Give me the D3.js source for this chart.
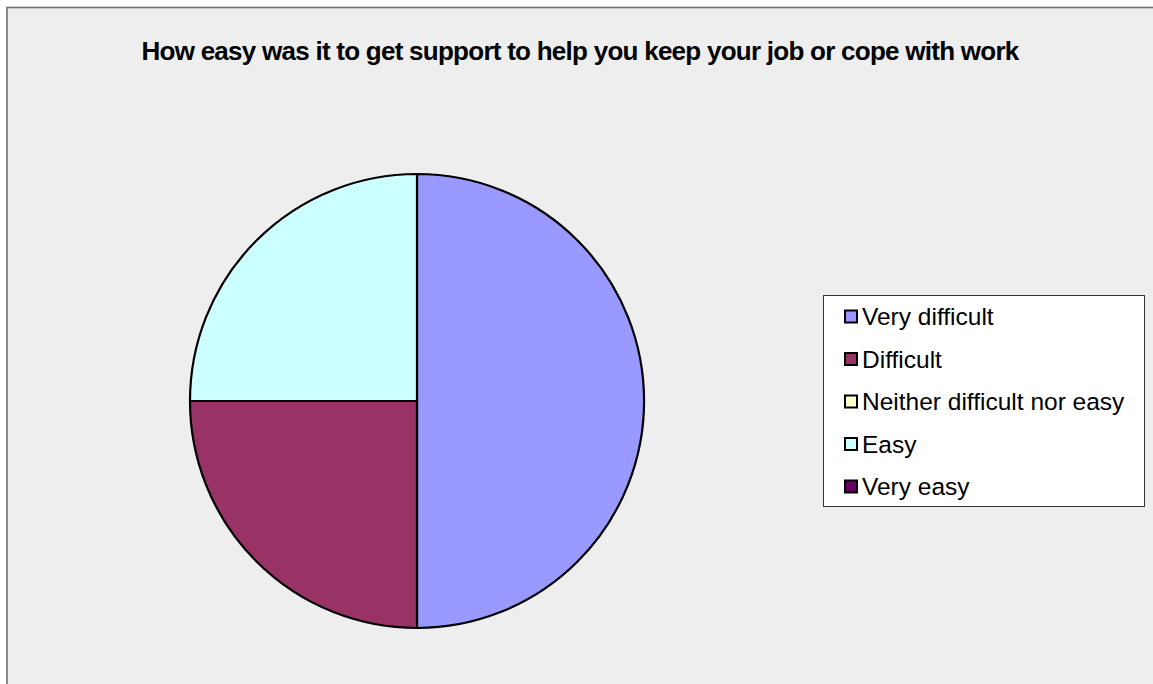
<!DOCTYPE html>
<html>
<head>
<meta charset="utf-8">
<script src="https://cdn.jsdelivr.net/npm/d3@7"></script>
<style>
  html, body { margin: 0; padding: 0; background: #ffffff; }
  svg { display: block; }
</style>
</head>
<body>
<svg id="chart" width="1153" height="684"></svg>
<script>
// Survey answers and their share of responses (%)
const categories = ["Very difficult", "Difficult", "Neither difficult nor easy", "Easy", "Very easy"];
const values = [50, 25, 0, 25, 0];
const colors = ["#9999FF", "#993366", "#FFFFCC", "#CCFFFF", "#660066"];
const title = "How easy was it to get support to help you keep your job or cope with work";

const width = 1153, height = 684;
const svg = d3.select("#chart");

// chart area panel
svg.append("rect")
  .attr("x", 7).attr("y", 7.5)
  .attr("width", width + 20).attr("height", height + 20)
  .attr("fill", "#EEEEEE")
  .attr("stroke", "#6E6E6E")
  .attr("stroke-width", 1.6);

// title
svg.append("text")
  .attr("x", 580).attr("y", 60)
  .attr("text-anchor", "middle")
  .attr("font-family", "Liberation Sans, Arial, sans-serif")
  .attr("font-weight", "bold")
  .attr("font-size", 26)
  .attr("letter-spacing", "-0.74px")
  .attr("fill", "#000")
  .text(title);

// pie
const cx = 417, cy = 401, r = 227;
const color = d3.scaleOrdinal().domain(categories).range(colors);
const pie = d3.pie().sort(null).value(d => d.value);
const arc = d3.arc().innerRadius(0).outerRadius(r);
const data = categories.map((c, i) => ({ name: c, value: values[i] }));

const g = svg.append("g").attr("transform", `translate(${cx},${cy})`);
g.selectAll("path")
  .data(pie(data).filter(d => d.data.value > 0))
  .join("path")
  .attr("d", arc)
  .attr("fill", d => color(d.data.name))
  .attr("stroke", "#000")
  .attr("stroke-width", 2.2)
  .attr("stroke-linejoin", "round");

// legend
const lx = 823.5, ly = 295.5, lw = 321, lh = 211;
svg.append("rect")
  .attr("x", lx).attr("y", ly)
  .attr("width", lw).attr("height", lh)
  .attr("fill", "#ffffff")
  .attr("stroke", "#333333")
  .attr("stroke-width", 1);

const rowY = d3.scalePoint().domain(categories).range([317, 487]);
const items = svg.append("g").selectAll("g")
  .data(categories)
  .join("g")
  .attr("transform", d => `translate(0,${rowY(d)})`);

items.append("rect")
  .attr("x", 845).attr("y", -6.5)
  .attr("width", 12).attr("height", 12)
  .attr("fill", d => color(d))
  .attr("stroke", "#000")
  .attr("stroke-width", 2);

items.append("text")
  .attr("x", 862).attr("y", 8)
  .attr("font-family", "Liberation Sans, Arial, sans-serif")
  .attr("font-size", 24.5)
  .attr("fill", "#000")
  .text(d => d);
</script>
</body>
</html>
